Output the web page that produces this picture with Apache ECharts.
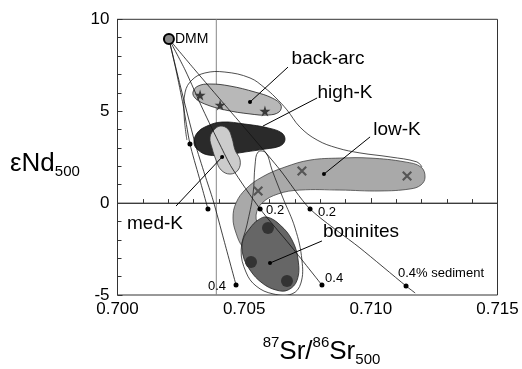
<!DOCTYPE html>
<html><head><meta charset="utf-8">
<script src="https://cdn.jsdelivr.net/npm/echarts@6/dist/echarts.min.js"></script>
<style>html,body{margin:0;padding:0;background:#fff}#c{width:522px;height:369px}</style>
</head><body><div id="c"></div>
<script>
// ---------- data (87Sr/86Sr500, eNd500) ----------
const xTicks = [0.700, 0.705, 0.710, 0.715];
const yTicks = [-5, 0, 5, 10];
const dmm = [0.70203, 8.93];
const refX = 0.7039;
const refY = 0;

// mixing curves DMM + sediment
const mixA = [[0.70203,8.93],[0.70231,7.24],[0.70259,5.34],[0.70286,3.22],[0.70322,1.42],[0.70357,-0.32]];
const mixB = [[0.70203,8.93],[0.70247,6.43],[0.70306,3.27],[0.70345,1.53],[0.70377,0.17],[0.70420,-2.01],[0.70468,-4.46]];
const mixC = [[0.70203,8.93],[0.70267,7.24],[0.70338,5.07],[0.70405,3.16],[0.70452,1.91],[0.70563,-0.32],[0.70681,-2.28],[0.70807,-4.46]];
const mixD = [[0.70203,8.93],[0.70306,7.24],[0.70424,5.34],[0.70543,3.43],[0.70642,1.80],[0.70760,-0.32],[0.70957,-2.44],[0.71139,-4.51],[0.71175,-4.89]];
const mixDots = [[0.70286,3.22],[0.70357,-0.32],[0.70468,-4.46],[0.70563,-0.32],[0.70807,-4.46],[0.70760,-0.32],[0.71139,-4.51]];

// fields
const envelope = [[0.70274,3.43],[0.70263,4.79],[0.70267,6.04],[0.70294,6.70],[0.70345,7.08],[0.70424,7.13],[0.70523,6.81],[0.70582,6.26],[0.70622,5.77],[0.70669,5.07],[0.70720,4.14],[0.70788,3.43],[0.70867,3.00],[0.70957,2.73],[0.71076,2.51],[0.71182,2.24],[0.71202,1.96]];
const backArc = [[0.70298,6.04],[0.70318,6.37],[0.70365,6.48],[0.70444,6.37],[0.70543,6.04],[0.70610,5.72],[0.70645,5.34],[0.70638,4.96],[0.70594,4.79],[0.70523,4.85],[0.70424,5.07],[0.70345,5.39],[0.70306,5.72]];
const backArcStars = [[0.70326,5.88],[0.70405,5.34],[0.70582,5.01]];
const highK = [[0.70302,3.27],[0.70314,3.81],[0.70353,4.19],[0.70413,4.41],[0.70503,4.30],[0.70594,4.09],[0.70649,3.81],[0.70661,3.43],[0.70642,3.11],[0.70582,2.94],[0.70503,2.78],[0.70424,2.62],[0.70357,2.62],[0.70318,2.89]];
const medK = [[0.70377,3.92],[0.70405,4.19],[0.70436,4.03],[0.70452,3.54],[0.70464,2.89],[0.70484,2.34],[0.70476,1.80],[0.70444,1.58],[0.70409,1.80],[0.70389,2.34],[0.70373,3.00],[0.70365,3.54]];
const lowK = [[0.71214,1.42],[0.71198,1.96],[0.71135,2.24],[0.70997,2.45],[0.70878,2.45],[0.70760,2.34],[0.70661,1.96],[0.70571,1.42],[0.70507,0.77],[0.70468,0.01],[0.70456,-0.81],[0.70468,-1.63],[0.70495,-2.39],[0.70531,-2.66],[0.70555,-1.47],[0.70547,-0.65],[0.70571,0.01],[0.70634,0.50],[0.70720,0.71],[0.70878,0.71],[0.71036,0.66],[0.71155,0.77],[0.71198,0.99]];
const lowKCrosses = [[0.70555,0.66],[0.70728,1.74],[0.71143,1.47]];
const boninOutline = [[0.70555,2.78],[0.70586,2.73],[0.70610,1.80],[0.70653,0.28],[0.70701,-1.36],[0.70728,-3.10],[0.70724,-4.35],[0.70689,-4.94],[0.70614,-4.94],[0.70547,-4.51],[0.70507,-3.75],[0.70488,-2.55],[0.70511,-1.19],[0.70535,0.49],[0.70543,2.07]];
const bonin = [[0.70590,-0.76],[0.70642,-1.19],[0.70689,-2.01],[0.70713,-3.10],[0.70709,-4.19],[0.70673,-4.73],[0.70626,-4.73],[0.70571,-4.35],[0.70523,-3.64],[0.70495,-2.82],[0.70495,-2.01],[0.70523,-1.36],[0.70555,-0.92]];
const boninSpots = [[0.70594,-1.36],[0.70527,-3.21],[0.70669,-4.24]];

// leaders [label end, field end]
const leaders = [
  [[0.70673,7.40],[0.70523,5.50]],
  [[0.70788,5.72],[0.70574,4.19]],
  [[0.70997,3.60],[0.70815,1.58]],
  [[0.70807,-2.06],[0.70602,-3.26]],
  [[0.70231,-0.16],[0.70413,2.51]]
];
const leaderDots = [[0.70523,5.50],[0.70815,1.58],[0.70602,-3.26],[0.70413,2.51]];

// annotations
const fieldNames = ['back-arc','high-K','low-K','boninites','med-K'];
const fieldPos = [[0.70831,7.84],[0.70898,5.99],[0.71103,3.98],[0.70961,-1.57],[0.70148,-1.14]];
const sedNames = ['0.2','0.2','0.4','0.4% sediment','0.4'];
const sedPos = [[0.70622,-0.38],[0.70827,-0.48],[0.70855,-4.08],[0.71277,-3.80],[0.70393,-4.56]];
const dmmName = 'DMM';
const dmmLabelPos = [0.70227,8.93];

// ---------- rendering ----------
const FONT = "'Liberation Sans', Arial, sans-serif";
const TXT = '#000';
const chart = echarts.init(document.getElementById('c'), null, {renderer:'canvas'});

function poly(pts, style, z, smooth, closed){
  return {type:'custom', coordinateSystem:'cartesian2d', z:z, silent:true, clip:true,
    data:[pts[0]],
    renderItem:function(params, api){
      const p = pts.map(q => api.coord(q));
      return {type: closed===false ? 'polyline' : 'polygon', shape:{points:p, smooth:smooth}, style:style};
    }};
}
function line(pts, z, color, width, smooth){
  return {type:'line', data:pts, z:z, showSymbol:false, symbol:'none', silent:true, smooth:smooth||0,
    lineStyle:{color:color||'#111', width:width||0.8}};
}
function pts(data, z, size, color, symbol, extra){
  return Object.assign({type:'scatter', data:data, z:z, silent:true, symbolSize:size,
    symbol:symbol||'circle', itemStyle:{color:color, opacity:1}}, extra||{});
}

const series = [];
// reference lines
series.push(line([[refX,-5],[refX,10]], 1, '#888', 1));
series.push(line([[0.700,refY],[0.715,refY]], 1, '#444', 1));
// envelope
series.push(poly(envelope, {fill:null, stroke:'#222', lineWidth:0.8}, 2, 0.4, false));
// low-K
series.push(poly(lowK, {fill:'#a9a9a9', stroke:'#444', lineWidth:0.8}, 3, 0.4));
// boninite outline
series.push(poly(boninOutline, {fill:null, stroke:'#222', lineWidth:0.8}, 4, 0.4));
// boninites
series.push(poly(bonin, {fill:'#666', stroke:'#222', lineWidth:0.8}, 5, 0.4));
series.push(pts(boninSpots, 6, 12, '#333'));
// back-arc
series.push(poly(backArc, {fill:'#b8b8b8', stroke:'#222', lineWidth:0.8}, 3, 0.4));
// high-K
series.push(poly(highK, {fill:'#2a2a2a', stroke:'#111', lineWidth:0.8}, 4, 0.4));
// med-K
series.push(poly(medK, {fill:'#cccccc', stroke:'#333', lineWidth:0.8}, 5, 0.4));
// mixing curves
[mixA, mixB, mixC, mixD].forEach(m => series.push(line(m, 7, '#111', 0.8, 0.25)));
// stars, crosses
series.push(pts(backArcStars, 8, 11, '#3a3a3a', 'path://M50,0 L61,35 L98,35 L68,57 L79,91 L50,70 L21,91 L32,57 L2,35 L39,35 Z'));
series.push(pts(lowKCrosses, 8, 10, '#555', 'path://M0,1.5 L1.5,0 L10,8.5 L8.5,10 Z M8.5,0 L10,1.5 L1.5,10 L0,8.5 Z'));
// DMM
series.push(pts([dmm], 9, 10, '#888', 'circle', {itemStyle:{color:'#888', borderColor:'#000', borderWidth:2, opacity:1}}));
// mixing dots
series.push(pts(mixDots, 9, 5, '#000'));
// leaders
leaders.forEach(l => series.push(line(l, 9, '#000', 1)));
series.push(pts(leaderDots, 9, 4, '#000'));
// text labels
function labels(names, pos, size, align){
  return {type:'scatter', z:10, silent:true, symbolSize:0, itemStyle:{opacity:1},
    data: names.map((n,i)=>({name:n, value:pos[i]})),
    label:{show:true, position:'inside', align:align||'center', formatter:'{b}', fontSize:size, color:TXT, fontFamily:FONT}};
}
series.push(labels(fieldNames, fieldPos, 19));
series.push(labels(sedNames, sedPos, 13));
series.push(labels([dmmName], [dmmLabelPos], 14, 'left'));

// axis titles with sub/superscripts
const ctx = document.createElement('canvas').getContext('2d');
function tw(t, s){ ctx.font = s+'px '+FONT; return ctx.measureText(t).width; }
const graphic = [];
function piece(t, x, y, s){ graphic.push({type:'text', x:x, y:y, silent:true,
  style:{text:t, font:s+'px '+FONT, fill:TXT, verticalAlign:'middle', align:'left'}}); }
// y title
const yT = 'εNd', yS = '500';
piece(yT, 10, 164, 26);
piece(yS, 10 + tw(yT,26), 172, 15);
// x title
const xParts = [['87',15,-9],['Sr/',26,0],['86',15,-9],['Sr',26,0],['500',15,8]];
let total = xParts.reduce((a,p)=>a+tw(p[0],p[1]),0);
let xx = 321.5 - total/2;
xParts.forEach(p => { piece(p[0], xx, 352 + p[2], p[1]); xx += tw(p[0],p[1]); });

chart.setOption({
  animation:false,
  backgroundColor:'#fff',
  grid:{left:117.5, right:24.5, top:19.3, bottom:74, show:true, borderColor:'#333', borderWidth:1, backgroundColor:'transparent'},
  xAxis:{type:'value', min:xTicks[0], max:xTicks[xTicks.length-1], interval:0.005,
    axisLine:{show:true, lineStyle:{color:'#333'}},
    axisTick:{show:true, inside:true, length:5, lineStyle:{color:'#333'}},
    minorTick:{show:true, splitNumber:5, length:4, lineStyle:{color:'#333'}},
    splitLine:{show:false},
    axisLabel:{formatter:v=>v.toFixed(3), fontSize:17, color:TXT, margin:6, fontFamily:FONT}},
  yAxis:{type:'value', min:yTicks[0], max:yTicks[yTicks.length-1], interval:5,
    axisLine:{show:true, lineStyle:{color:'#333'}},
    axisTick:{show:true, inside:true, length:5, lineStyle:{color:'#333'}},
    minorTick:{show:true, splitNumber:5, length:4, lineStyle:{color:'#333'}},
    splitLine:{show:false},
    axisLabel:{fontSize:17, color:TXT, margin:8, fontFamily:FONT}},
  graphic: graphic,
  series: series
});
</script>
</body></html>
